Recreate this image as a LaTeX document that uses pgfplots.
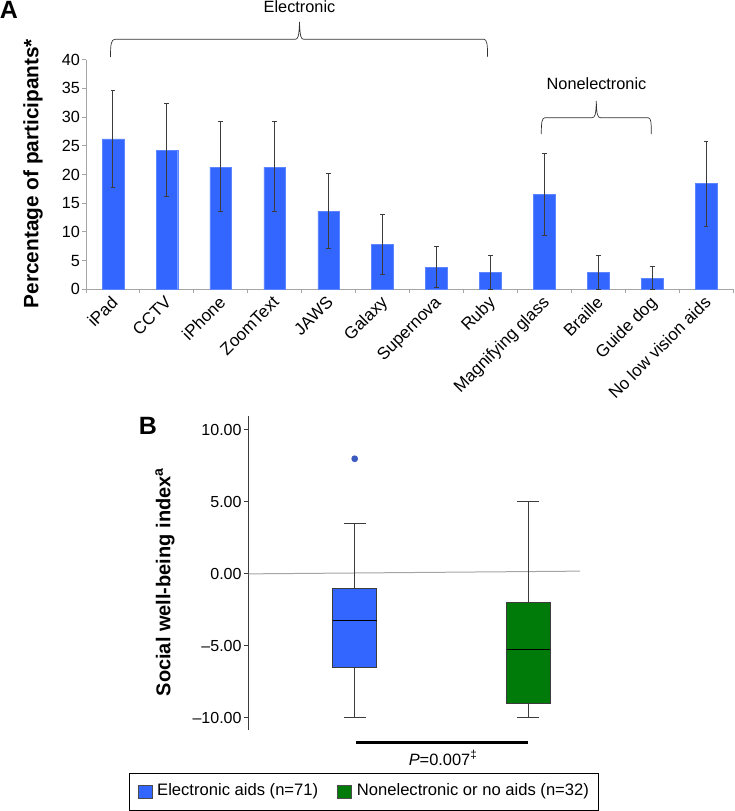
\documentclass[border=0pt]{standalone}
\usepackage{fontspec}
\setmainfont{Liberation Sans}
\usepackage{pgfplots}
\usepgfplotslibrary{statistics}
\pgfplotsset{compat=1.18}
\usepackage{pgfplotstable}
\definecolor{barblue}{RGB}{51,102,255}
\definecolor{boxgreen}{RGB}{0,122,8}
\definecolor{axgray}{RGB}{165,165,165}
\definecolor{dotblue}{RGB}{60,90,190}
\definecolor{whisk}{RGB}{60,60,60}
\newcommand{\fs}[1]{\fontsize{#1}{#1}\selectfont}
\pgfplotstableread{
x y plus minus
0.5 26.2 8.5 8.4
1.5 24.2 8.2 8.1
2.5 21.3 7.9 7.8
3.5 21.3 7.9 7.8
4.5 13.6 6.6 6.5
5.5 7.8 5.2 5.2
6.5 3.8 3.6 3.45
7.5 2.9 3.0 2.9
8.5 16.5 7.2 7.2
9.5 2.9 3.0 2.9
10.5 1.9 2.05 1.9
11.5 18.4 7.4 7.4
}\aids
\begin{document}
\begin{tikzpicture}
\useasboundingbox (0,0) rectangle (734pt,-811pt);
% Panel A
\begin{axis}[
  at={(86pt,-289.3pt)}, anchor=south west,
  scale only axis, width=647pt, height=229.6pt,
  xmin=0, xmax=12, ymin=0, ymax=40,
  axis x line*=bottom, axis y line*=left,
  axis line style={axgray,-, line width=0.9pt},
  tick style={axgray, line width=0.9pt},
  tick align=outside, major tick length=4pt,
  xtick={0,...,12},
  xticklabels={iPad,CCTV,iPhone,ZoomText,JAWS,Galaxy,Supernova,Ruby,Magnifying glass,Braille,Guide dog,No low vision aids,{}},
  xticklabel style={font=\fs{17}, xshift=24pt, yshift=0pt, anchor=north east, rotate=45, inner sep=1pt},
  ytick={0,5,...,40},
  yticklabel style={font=\fs{16.2}, inner sep=2pt},
  /pgf/number format/assume math mode=true,
  ylabel={\bfseries Percentage of participants*},
  ylabel style={font=\fs{20.8}, at={(axis description cs:-0.082,0.504)}, anchor=center},
  clip=false,
]
\addplot[ybar, bar width=21.7pt, fill=barblue, draw=barblue!80!white,
  error bars/.cd, y dir=both, y explicit,
  error bar style={whisk, line width=1pt},
  error mark options={rotate=90, mark size=2.4pt, whisk, line width=1pt}]
  table[x=x, y=y, y error plus=plus, y error minus=minus] {\aids};
\end{axis}
% Braces
\draw[black!80, line width=0.7pt] (110.5pt,-57pt) .. controls (110.5pt,-45pt) and (111pt,-39.3pt) .. (115pt,-39.3pt)
  -- (295pt,-39.3pt) .. controls (298pt,-39.3pt) and (299pt,-37pt) .. (299.5pt,-22pt)
  .. controls (300pt,-37pt) and (301pt,-39.3pt) .. (304pt,-39.3pt)
  -- (484pt,-39.3pt) .. controls (487pt,-39.3pt) and (487.6pt,-45pt) .. (487.6pt,-57pt);
\draw[black!80, line width=0.7pt] (541.3pt,-134pt) .. controls (541.3pt,-122pt) and (542pt,-117.7pt) .. (545pt,-117.7pt)
  -- (592pt,-117.7pt) .. controls (595pt,-117.7pt) and (596pt,-115pt) .. (596.3pt,-101pt)
  .. controls (596.6pt,-115pt) and (597.6pt,-117.7pt) .. (600.6pt,-117.7pt)
  -- (648pt,-117.7pt) .. controls (651pt,-117.7pt) and (651.3pt,-122pt) .. (651.3pt,-134pt);
\node[font=\fs{16.3}] at (299.5pt,-7pt) {Electronic};
\node[font=\fs{16.3}] at (596.5pt,-84pt) {Nonelectronic};
\node[font=\fs{25}\bfseries] at (9pt,-10pt) {A};
\node[font=\fs{25}\bfseries] at (148pt,-426pt) {B};
% Panel B
\begin{axis}[
  at={(248.7pt,-730pt)}, anchor=south west,
  scale only axis, width=331.3pt, height=314pt,
  xmin=0, xmax=331.3, ymin=-10.85, ymax=10.97,
  axis x line=none, axis y line*=left,
  axis line style={whisk,-, line width=1pt},
  tick style={whisk, line width=1pt},
  tick align=outside, major tick length=5pt,
  ytick={-10,-5,0,5,10},
  yticklabels={–10.00,–5.00,0.00,5.00,10.00},
  yticklabel style={font=\fs{16}, inner sep=2pt},
  ylabel={\bfseries Social well-being index\textsuperscript{a}},
  ylabel style={font=\fs{20}, at={(axis description cs:-0.2526,0.471)}, anchor=center},
  boxplot/draw direction=y,
  boxplot/every median/.style={draw=black, line width=1.2pt},
  clip=false,
]
\addplot[axgray, line width=1pt] coordinates {(0,0) (331.3,0.19)};
\addplot+[boxplot prepared={draw position=106, box extend=43.6, whisker extend=21.7,
    lower whisker=-10, lower quartile=-6.5, median=-3.25, upper quartile=-1, upper whisker=3.5},
    solid, fill=barblue, draw=whisk, line width=1.1pt, mark=*, mark size=2.8pt, mark options={fill=dotblue, draw=dotblue}]
  coordinates {(0,8)};
\addplot+[boxplot prepared={draw position=279.6, box extend=43.6, whisker extend=21.7,
    lower whisker=-9.95, lower quartile=-9, median=-5.25, upper quartile=-2, upper whisker=5},
    solid, fill=boxgreen, draw=whisk, line width=1.1pt]
  coordinates {};
\end{axis}
\draw[black, line width=2.6pt] (356pt,-742.3pt) -- (528pt,-742.3pt);
\node[font=\fs{16.4}] at (443pt,-758pt) {\textit{P}=0.007\textsuperscript{‡}};
% Legend
\draw[black, line width=0.8pt] (129pt,-773pt) rectangle (598pt,-810pt);
\filldraw[fill=barblue, draw=black!70, line width=0.5pt] (138.3pt,-785pt) rectangle (152pt,-798pt);
\filldraw[fill=boxgreen, draw=black!70, line width=0.5pt] (337pt,-785pt) rectangle (351pt,-798pt);
\node[font=\fs{16.6}, anchor=west, inner sep=0pt] at (157pt,-791.5pt) {Electronic aids (n=71)};
\node[font=\fs{16.6}, anchor=west, inner sep=0pt] at (356.7pt,-791.5pt) {Nonelectronic or no aids (n=32)};
\end{tikzpicture}
\end{document}
